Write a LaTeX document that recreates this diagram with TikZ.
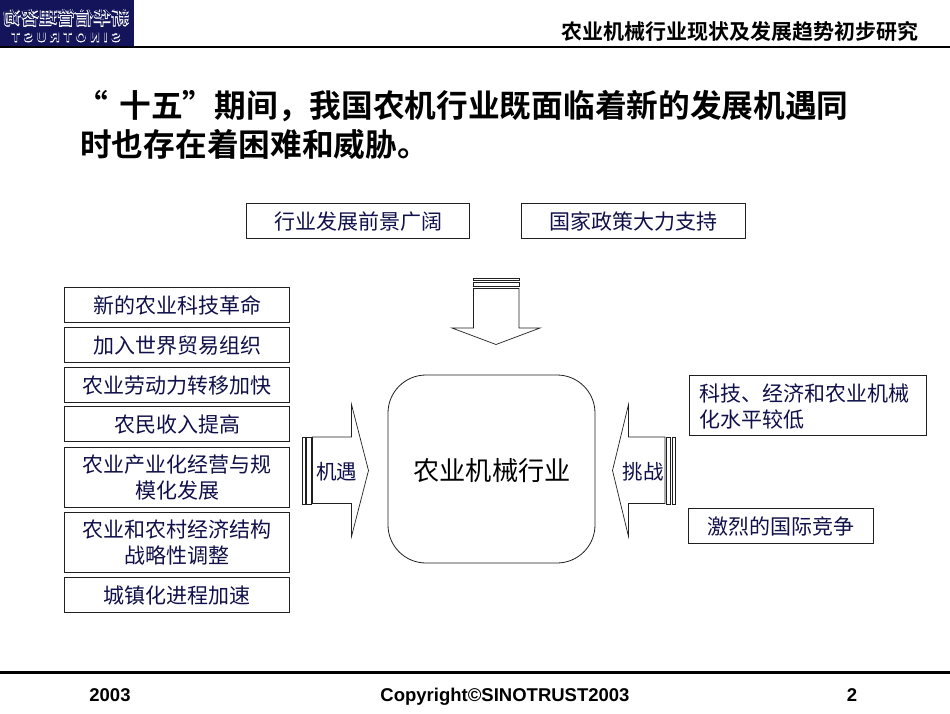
\documentclass[tikz,border=0pt]{standalone}
\usepackage{fontspec}
\setmainfont{Liberation Sans}
\newfontfamily\cjk{Noto Sans CJK SC}[BoldFont={Noto Sans CJK SC Bold}]
\newfontfamily\cjklogo{Noto Sans CJK SC Bold}[FakeBold=3]
\newfontfamily\latlogo{Liberation Sans Bold}[LetterSpace=32,FakeBold=5]
\newfontfamily\latlogoin{Liberation Sans Bold}[LetterSpace=32]
\definecolor{navytext}{HTML}{10104A}
\definecolor{logoblue}{HTML}{14145A}
\definecolor{edge}{HTML}{202020}
\tikzset{
 x=1pt,y=-1pt,
 box/.style={draw=edge,line width=.8pt,fill=white,text=navytext,font=\cjk\fontsize{21}{25.5}\selectfont,inner sep=0pt},
 outl/.style={draw=edge,line width=.7pt,fill=white},
 foot/.style={font=\bfseries\fontsize{18.5}{22}\selectfont,text=black,inner sep=0pt,anchor=base},
 titlet/.style={font=\cjk\bfseries\fontsize{31.7}{37}\selectfont,text=black,inner sep=0pt,anchor=west},
}
\newcommand{\mkbox}[6]{\node[box,minimum width=#4pt,minimum height=#5pt] (#1) at (#2,#3) {\raisebox{-3.5pt}[\height][\depth]{\begin{tabular}{@{}c@{}}#6\end{tabular}}};}
\begin{document}
\begin{tikzpicture}
\useasboundingbox (0,0) rectangle (950,713);
\fill[white] (0,0) rectangle (950,713);
% logo
\fill[logoblue] (0,0) rectangle (134,46);
\node[xscale=-1,inner sep=0pt,text=white,font=\cjklogo\fontsize{18}{18}\selectfont] (logoa) at (66,18) {新华信管理咨询};
\node[xscale=-1,inner sep=0pt,text=logoblue,font=\cjk\fontsize{18}{18}\selectfont] (logoc) at (66,18) {新华信管理咨询};
\node[xscale=-1,inner sep=0pt,text=white,font=\latlogo\fontsize{13}{13}\selectfont] (logob) at (66,37.5) {SINOTRUST};
\node[xscale=-1,inner sep=0pt,text=logoblue,font=\latlogoin\fontsize{13}{13}\selectfont] (logod) at (66,37.5) {SINOTRUST};
% header
\draw[line width=2.6pt,black] (0,47) -- (950,47);
\node[anchor=east,inner sep=0pt,font=\cjk\bfseries\fontsize{21}{25}\selectfont] (head) at (919,31) {农业机械行业现状及发展趋势初步研究};
% title
\node[titlet] (t1) at (76.5,106) {“\hspace{4pt} 十五”期间，我国农机行业既面临着新的发展机遇同};
\node[titlet] (t2) at (80,144) {时也存在着困难和威胁。};
% top boxes
\mkbox{p1}{358}{221}{223}{35}{行业发展前景广阔}
\mkbox{p2}{633}{221}{224}{35}{国家政策大力支持}
% left boxes
\mkbox{l1}{177}{304.5}{225}{35}{新的农业科技革命}
\mkbox{l2}{177}{344.5}{225}{35}{加入世界贸易组织}
\mkbox{l3}{177}{384.5}{225}{35}{农业劳动力转移加快}
\mkbox{l4}{177}{424}{225}{35}{农民收入提高}
\mkbox{l5}{177}{477}{225}{60}{农业产业化经营与规\\模化发展}
\mkbox{l6}{177}{542}{225}{60}{农业和农村经济结构\\战略性调整}
\mkbox{l7}{177}{595}{225}{35}{城镇化进程加速}
% right boxes
\node[box,minimum width=237pt,minimum height=60pt] (r1) at (807.5,405) {};
\node[inner sep=0pt,anchor=west,align=left,text=navytext,font=\cjk\fontsize{21}{25.5}\selectfont] (r1t) at (699,406.5) {科技、经济和农业机械\\化水平较低};
\mkbox{r2}{781}{525.5}{185}{35}{激烈的国际竞争}
% centre
\node[draw=edge,line width=.8pt,fill=white,rounded corners=38pt,minimum width=207pt,minimum height=188pt,inner sep=0pt] (c) at (491.5,469) {};
\node[inner sep=0pt,font=\cjk\fontsize{26.2}{30}\selectfont,text=black] (ct) at (492,471) {农业机械行业};
% top arrow
\draw[outl] (473.5,278) rectangle (519,280.5);
\draw[outl] (473.5,282) rectangle (519,286.5);
\draw[outl] (473.5,288.5) -- (519,288.5) -- (519,328) -- (540,328) -- (496,344.5) -- (452,328) -- (473.5,328) -- cycle;
% left arrow
\draw[outl] (302,437) rectangle (305,504);
\draw[outl] (306.5,437) rectangle (311,504);
\draw[outl] (312.5,437) -- (351.5,437) -- (351.5,404.5) -- (368.5,470.5) -- (351.5,536.5) -- (351.5,503.5) -- (312.5,503.5) -- cycle;
\node[inner sep=0pt,text=navytext,font=\cjk\fontsize{20.5}{24}\selectfont] (ja) at (336.5,472) {机遇};
% right arrow
\draw[outl] (672,437) rectangle (675,504);
\draw[outl] (666.5,437) rectangle (670.5,504);
\draw[outl] (665,437) -- (628.5,437) -- (628.5,404.5) -- (612.5,470.5) -- (628.5,536.5) -- (628.5,503.5) -- (665,503.5) -- cycle;
\node[inner sep=0pt,text=navytext,font=\cjk\fontsize{20.5}{24}\selectfont] (tz) at (643,472) {挑战};
% footer
\draw[line width=2.6pt,black] (0,672.5) -- (950,672.5);
\node[foot] (f1) at (110,701.5) {2003};
\node[foot] (f2) at (505,701.5) {Copyright©SINOTRUST2003};
\node[foot] (f3) at (852,701.5) {2};
\end{tikzpicture}
\end{document}
